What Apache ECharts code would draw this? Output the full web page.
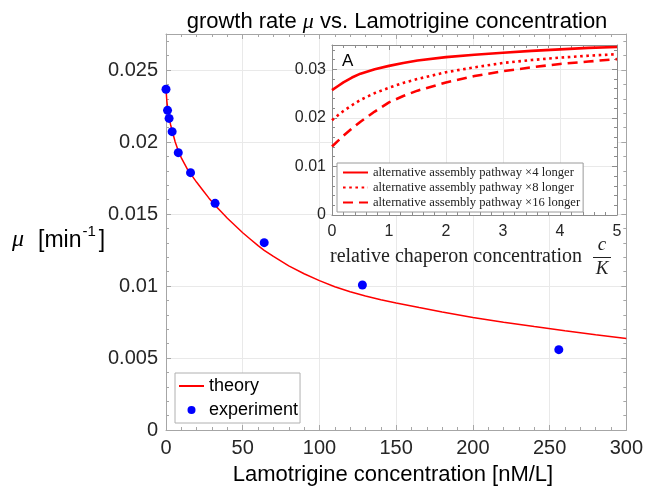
<!DOCTYPE html>
<html><head><meta charset="utf-8">
<script src="https://cdn.jsdelivr.net/npm/echarts@6/dist/echarts.min.js"></script>
<style>html,body{margin:0;padding:0;background:#fff}#c{width:646px;height:486px}</style>
</head><body><div id="c"></div>
<script>
// ---- data ----
const theoryX = [0,0.5,1,2,3,4,6,8,10,12,14,16,20,24,28,32,36,40,45,50,55,60,64,70,80,90,100,110,120,130,140,150,165,180,200,220,240,260,280,300];
const theoryY = [0.0237,0.0229,0.0224,0.0217,0.0212,0.0208,0.0200,0.0194,0.0189,0.0185,0.0181,0.0178,0.0172,0.01665,0.0161,0.0156,0.01515,0.0147,0.0142,0.0137,0.01325,0.0128,0.01248,0.01205,0.01140,0.01085,0.01037,0.00995,0.00960,0.00930,0.00904,0.00882,0.00850,0.00820,0.00782,0.00749,0.00719,0.00690,0.00662,0.00636];
const expX = [0,1,2,4,8,16,32,64,128,256];
const expY = [0.02366,0.0222,0.02164,0.02072,0.01926,0.01787,0.01574,0.01301,0.01007,0.00558];
const insetX = [0,0.1,0.2,0.35,0.5,0.75,1,1.25,1.5,2,2.5,3,3.5,4,4.5,5];
const insetX4 = [0.0257,0.0265,0.0273,0.0283,0.0291,0.0300,0.0307,0.0313,0.0318,0.0325,0.0330,0.0334,0.0338,0.0341,0.0344,0.0346];
const insetX8 = [0.0195,0.0205,0.0214,0.0226,0.0237,0.0251,0.0262,0.0272,0.0280,0.0294,0.0304,0.0313,0.0319,0.0324,0.0328,0.0331];
const insetX16 = [0.0141,0.0152,0.0163,0.0178,0.0192,0.0213,0.0232,0.0245,0.0256,0.0273,0.0286,0.0296,0.0304,0.0311,0.0316,0.0321];
const mainXTicks = [0,50,100,150,200,250,300];
const mainYTicks = [0,0.005,0.01,0.015,0.02,0.025];
const insetXTicks = [0,1,2,3,4,5];
const insetYTicks = [0,0.01,0.02,0.03];
const seriesNames = ['theory','experiment',
  'alternative assembly pathway \u00d74 longer',
  'alternative assembly pathway \u00d78 longer',
  'alternative assembly pathway \u00d716 longer'];

const SANS = '"Liberation Sans", Arial, sans-serif';
const SERIF = '"Liberation Serif", "Times New Roman", serif';
const FRAME = '#a6a6a6';
const INFRAME = '#8c8c8c';
const GRIDC = '#e9e9e9';
const TXT = '#262626';

function pairs(xs, ys){ return xs.map((x,i)=>[x, ys[i]]); }
function tickFmt(list){
  return function(v){
    for (const t of list) if (Math.abs(t - v) < 1e-9) return String(t);
    return '';
  };
}
function axisBase(gridIndex, min, max, interval, z, color){
  return {
    type:'value', gridIndex, min, max, interval, z,
    axisLine:{show:true, onZero:false, lineStyle:{color:color, width:1}},
    axisTick:{show:true, inside:true, length:5, lineStyle:{color:color}},
    minorTick:{show:true, splitNumber:5, length:3, lineStyle:{color:color}},
    splitLine:{show:false},
    axisLabel:{show:false}
  };
}

const xMain = Object.assign(axisBase(0,0,300,50,0,FRAME), {
  position:'bottom',
  splitLine:{show:true, lineStyle:{color:GRIDC}},
  axisLabel:{show:true, fontSize:20, fontFamily:SANS, color:TXT, margin:8, formatter:tickFmt(mainXTicks)}
});
const xMainTop = Object.assign(axisBase(0,0,300,50,0,FRAME), {position:'top'});
const yMain = Object.assign(axisBase(0,0,0.0275,0.005,0,FRAME), {
  position:'left',
  splitLine:{show:true, lineStyle:{color:GRIDC}},
  axisLabel:{show:true, fontSize:20, fontFamily:SANS, color:TXT, margin:8, formatter:tickFmt(mainYTicks)}
});
const yMainRight = Object.assign(axisBase(0,0,0.0275,0.005,0,FRAME), {position:'right'});

const xIn = Object.assign(axisBase(1,0,5,1,4,INFRAME), {
  position:'bottom',
  splitLine:{show:true, lineStyle:{color:GRIDC}},
  axisLabel:{show:true, fontSize:16, fontFamily:SANS, color:TXT, margin:9, formatter:tickFmt(insetXTicks)}
});
const xInTop = Object.assign(axisBase(1,0,5,1,4,INFRAME), {position:'top'});
const yIn = Object.assign(axisBase(1,0,0.035,0.01,4,INFRAME), {
  position:'left',
  splitLine:{show:true, lineStyle:{color:GRIDC}},
  axisLabel:{show:true, fontSize:16, fontFamily:SANS, color:TXT, margin:6, formatter:tickFmt(insetYTicks)}
});
const yInRight = Object.assign(axisBase(1,0,0.035,0.01,4,INFRAME), {position:'right'});

const noSym = {opacity:0};
const chart = echarts.init(document.getElementById('c'), null, {renderer:'canvas'});
chart.setOption({
  animation:false,
  backgroundColor:'#fff',
  grid:[
    {left:166, top:34, width:462, height:396, show:false},
    {left:332, top:45, width:285, height:170, show:true, backgroundColor:'#fff', borderWidth:0, z:3}
  ],
  xAxis:[xMain, xMainTop, xIn, xInTop],
  yAxis:[yMain, yMainRight, yIn, yInRight],
  legend:[
    {data:[{name:seriesNames[0], itemStyle:noSym}, {name:seriesNames[1]}], left:175, top:373, orient:'vertical',
     itemWidth:25, itemHeight:8, itemGap:6, padding:[4,2,4,3],
     borderColor:'#b0b0b0', borderWidth:1, backgroundColor:'#fff', z:6,
     textStyle:{fontSize:18, fontFamily:SANS, color:'#000'}, selectedMode:false},
    {data:[{name:seriesNames[2], itemStyle:noSym}, {name:seriesNames[3], itemStyle:noSym}, {name:seriesNames[4], itemStyle:noSym}],
     left:337, top:163, orient:'vertical',
     itemWidth:25, itemHeight:8, itemGap:2, padding:[3,3,3,5],
     borderColor:'#9a9a9a', borderWidth:1, backgroundColor:'#fff', z:6,
     textStyle:{fontSize:12.6, fontFamily:SERIF, color:'#222'}, selectedMode:false}
  ],
  series:[
    {name:seriesNames[0], type:'line', xAxisIndex:0, yAxisIndex:0, data:pairs(theoryX, theoryY),
     smooth:false, symbol:'none', lineStyle:{color:'#ff0000', width:1.5}, itemStyle:{color:'#ff0000'}, z:2},
    {name:seriesNames[1], type:'scatter', xAxisIndex:0, yAxisIndex:0, data:pairs(expX, expY),
     symbol:'circle', symbolSize:9, itemStyle:{color:'#0000ff', opacity:1}, z:3},
    {name:seriesNames[2], type:'line', xAxisIndex:2, yAxisIndex:2, data:pairs(insetX, insetX4),
     smooth:false, symbol:'none', lineStyle:{color:'#ff0000', width:2.6, type:'solid'}, itemStyle:{color:'#ff0000'}, z:5},
    {name:seriesNames[3], type:'line', xAxisIndex:2, yAxisIndex:2, data:pairs(insetX, insetX8),
     smooth:false, symbol:'none', lineStyle:{color:'#ff0000', width:2.6, type:[2.6,3.6]}, itemStyle:{color:'#ff0000'}, z:5},
    {name:seriesNames[4], type:'line', xAxisIndex:2, yAxisIndex:2, data:pairs(insetX, insetX16),
     smooth:false, symbol:'none', lineStyle:{color:'#ff0000', width:2.6, type:[10,6]}, itemStyle:{color:'#ff0000'}, z:5}
  ],
  graphic:[
    {type:'text', x:397, y:22, z:10, style:{
      text:'growth rate {mu|\u03bc} vs. Lamotrigine concentration',
      align:'center', verticalAlign:'middle', fill:'#000', fontSize:22, fontFamily:SANS,
      rich:{mu:{fontSize:22, fontFamily:SERIF, fontStyle:'italic', fill:'#000'}}}},
    {type:'text', x:12, y:238, z:10, style:{
      text:'{mu|\u03bc}{b|[min}{sup|-1}{b|]}',
      align:'left', verticalAlign:'middle', fill:'#000', fontSize:23, fontFamily:SANS,
      rich:{mu:{fontSize:24, fontFamily:SERIF, fontStyle:'italic', fill:'#000', padding:[0,14,0,0], lineHeight:28, verticalAlign:'bottom'},
            b:{fontSize:23, fontFamily:SANS, fill:'#000', lineHeight:28, verticalAlign:'bottom'},
            sup:{fontSize:15, fontFamily:SANS, fill:'#000', lineHeight:15, verticalAlign:'top', padding:[0,3,0,1]}}}},
    {type:'text', x:393, y:475, z:10, style:{
      text:'Lamotrigine concentration [nM/L]', align:'center', verticalAlign:'middle',
      fill:'#000', fontSize:22, fontFamily:SANS}},
    {type:'text', x:342, y:61, z:10, style:{
      text:'A', align:'left', verticalAlign:'middle', fill:'#000', fontSize:17, fontFamily:SANS}},
    {type:'text', x:330, y:257, z:10, style:{
      text:'relative chaperon concentration', align:'left', verticalAlign:'middle',
      fill:'#222', fontSize:20, fontFamily:SERIF}},
    {type:'text', x:602, y:245, z:10, style:{
      text:'c', align:'center', verticalAlign:'middle', fill:'#222', fontSize:19, fontFamily:SERIF, fontStyle:'italic'}},
    {type:'line', z:10, shape:{x1:593, y1:257.5, x2:611, y2:257.5}, style:{stroke:'#222', lineWidth:1}},
    {type:'text', x:602, y:269, z:10, style:{
      text:'K', align:'center', verticalAlign:'middle', fill:'#222', fontSize:19, fontFamily:SERIF, fontStyle:'italic'}}
  ]
});
</script></body></html>
